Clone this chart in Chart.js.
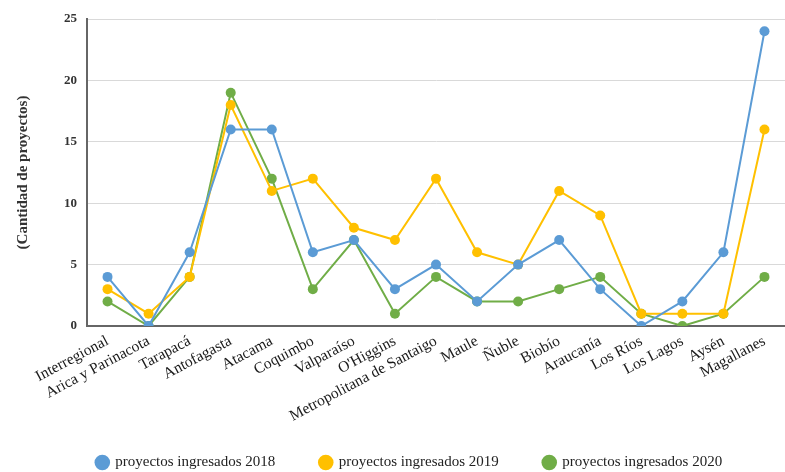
<!doctype html>
<html lang="es">
<head>
<meta charset="utf-8">
<title>Proyectos ingresados por región</title>
<script src="https://cdn.jsdelivr.net/npm/chart.js"></script>
<style>
  html, body { margin: 0; padding: 0; background: #fff; }
  #wrap { width: 785px; height: 472px; position: relative; }
</style>
</head>
<body>
<div id="wrap"><canvas id="chart"></canvas></div>
<script>
const regiones = ['Interregional', 'Arica y Parinacota', 'Tarapacá', 'Antofagasta', 'Atacama',
  'Coquimbo', 'Valparaíso', "O'Higgins", 'Metropolitana de Santaigo', 'Maule', 'Ñuble',
  'Biobío', 'Araucanía', 'Los Ríos', 'Los Lagos', 'Aysén', 'Magallanes'];

const proyectos2018 = [4, 0, 6, 16, 16, 6, 7, 3, 5, 2, 5, 7, 3, 0, 2, 6, 24];
const proyectos2019 = [3, 1, 4, 18, 11, 12, 8, 7, 12, 6, 5, 11, 9, 1, 1, 1, 16];
const proyectos2020 = [2, 0, 4, 19, 12, 3, 7, 1, 4, 2, 2, 3, 4, 1, 0, 1, 4];

const serif = "'Liberation Serif', 'DejaVu Serif', serif";

function serie(label, data, color) {
  return {
    label: label,
    data: data,
    borderColor: color,
    backgroundColor: color,
    borderWidth: 2,
    pointRadius: 5,
    pointHoverRadius: 5,
    pointBorderWidth: 0,
    tension: 0
  };
}

// the legend needs wide gaps between items but not the tall box that padding gives,
// so pull it up (and a bit right) after layout
const legendNudge = {
  id: 'legendNudge',
  afterLayout(chart) {
    const lg = chart.legend;
    lg.top -= 28; lg.bottom -= 28;
    lg.left += 12; lg.right += 12;
  }
};

new Chart(document.getElementById('chart'), {
  type: 'line',
  data: {
    labels: regiones,
    datasets: [
      serie('proyectos ingresados 2018', proyectos2018, '#5b9bd5'),
      serie('proyectos ingresados 2019', proyectos2019, '#ffc000'),
      serie('proyectos ingresados 2020', proyectos2020, '#70ad47')
    ]
  },
  plugins: [legendNudge],
  options: {
    responsive: true,
    maintainAspectRatio: false,
    animation: false,
    layout: { autoPadding: false, padding: { top: 19, right: 0, left: 10, bottom: -32 } },
    plugins: {
      legend: {
        position: 'bottom',
        maxHeight: 66,
        labels: {
          usePointStyle: true,
          pointStyle: 'circle',
          boxWidth: 11,
          boxHeight: 11,
          padding: 45,
          color: '#222',
          font: { family: serif, size: 15 }
        }
      },
      tooltip: { enabled: false }
    },
    scales: {
      x: {
        offset: true,
        grid: { display: false, drawTicks: false },
        border: { color: '#666', width: 2 },
        ticks: {
          autoSkip: false,
          minRotation: 28,
          maxRotation: 28,
          padding: 6,
          color: '#1a1a1a',
          font: { family: serif, size: 15.5 }
        },
        afterFit: (scale) => { scale.height = 112; }
      },
      y: {
        min: 0,
        max: 25,
        grid: { color: '#d9d9d9', lineWidth: 1, drawTicks: false },
        border: { color: '#666', width: 2 },
        ticks: {
          stepSize: 5,
          padding: 10,
          color: '#333',
          font: { family: serif, size: 13, weight: 'bold' }
        },
        title: {
          display: true,
          text: '(Cantidad de proyectos)',
          color: '#333',
          font: { family: serif, size: 15, weight: 'bold' },
          padding: { bottom: 22 }
        }
      }
    }
  }
});
</script>
</body>
</html>
